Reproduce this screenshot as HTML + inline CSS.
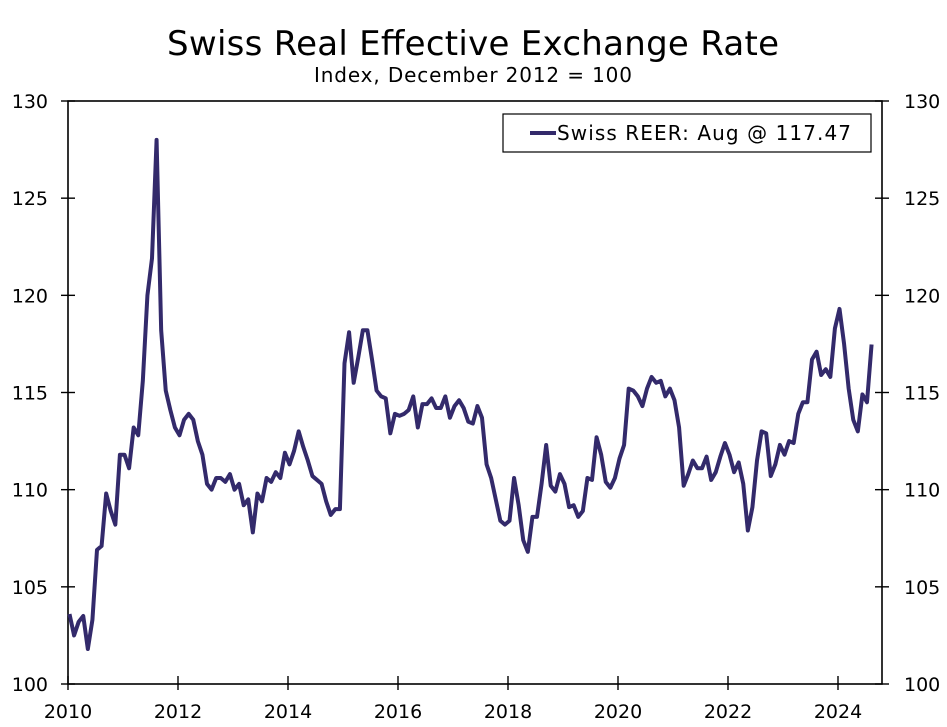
<!DOCTYPE html>
<html><head><meta charset="utf-8"><style>
html,body{margin:0;padding:0;background:#fff;}
svg{display:block;font-family:"DejaVu Sans","Liberation Sans",sans-serif;}
</style></head><body>
<svg id="chart" width="947" height="727" viewBox="0 0 947 727">
<text x="473" y="55" text-anchor="middle" font-size="34" fill="#000" textLength="612">Swiss Real Effective Exchange Rate</text>
<text x="473" y="82" text-anchor="middle" font-size="20" fill="#000" textLength="318">Index, December 2012 = 100</text>
<g id="axes"></g>
<path id="line" fill="none" stroke="#332a6b" stroke-width="4" stroke-linejoin="round"/>
<g>
<rect x="503" y="114" width="368" height="38" fill="#fff" stroke="#000" stroke-width="1.2"/>
<line x1="530" y1="133" x2="556" y2="133" stroke="#332a6b" stroke-width="4"/>
<text x="557" y="140" font-size="20" fill="#000" textLength="294">Swiss REER: Aug @ 117.47</text>
</g>
</svg>
<script>
const values = [
103.6,102.5,103.2,103.5,101.8,103.3,106.9,107.1,109.8,108.9,108.2,111.8,
111.8,111.1,113.2,112.8,115.6,120.0,121.9,128.0,118.2,115.1,114.1,113.2,
112.8,113.6,113.9,113.6,112.5,111.8,110.3,110.0,110.6,110.6,110.4,110.8,
110.0,110.3,109.2,109.5,107.8,109.8,109.4,110.6,110.4,110.9,110.6,111.9,
111.3,112.0,113.0,112.2,111.5,110.7,110.5,110.3,109.4,108.7,109.0,109.0,
116.5,118.1,115.5,116.8,118.2,118.2,116.7,115.1,114.8,114.7,112.9,113.9,
113.8,113.9,114.1,114.8,113.2,114.4,114.4,114.7,114.2,114.2,114.8,113.7,
114.3,114.6,114.2,113.5,113.4,114.3,113.7,111.3,110.6,109.5,108.4,108.2,
108.4,110.6,109.2,107.4,106.8,108.6,108.6,110.3,112.3,110.2,109.9,110.8,
110.3,109.1,109.2,108.6,108.9,110.6,110.5,112.7,111.8,110.4,110.1,110.6,
111.6,112.3,115.2,115.1,114.8,114.3,115.2,115.8,115.5,115.6,114.8,115.2,
114.6,113.2,110.2,110.8,111.5,111.1,111.1,111.7,110.5,110.9,111.7,112.4,
111.8,110.9,111.4,110.3,107.9,109.1,111.5,113.0,112.9,110.7,111.3,112.3,
111.8,112.5,112.4,113.9,114.5,114.5,116.7,117.1,115.9,116.2,115.8,118.3,
119.3,117.5,115.2,113.6,113.0,114.9,114.5,117.47];
const startYear = 2010;
const yTicks = [100,105,110,115,120,125,130];
const xTicks = [2010,2012,2014,2016,2018,2020,2022,2024];

const L=68,R=882,T=101,B=684;
const yMin=100,yMax=130;
const xS = t => L + (t-2010)*55;
const yS = v => B - (v-yMin)/(yMax-yMin)*(B-T);
const NS="http://www.w3.org/2000/svg";
const axes=document.getElementById('axes');
function mk(tag,attrs,parent){const e=document.createElementNS(NS,tag);for(const k in attrs)e.setAttribute(k,attrs[k]);(parent||axes).appendChild(e);return e;}
const fr=mk('rect',{x:L,y:T,width:R-L,height:B-T,fill:'none',stroke:'#000','stroke-width':1.6});


yTicks.forEach(v=>{
  const y=yS(v);
  const t1=mk('line',{x1:L-7,x2:L+7,y1:y,y2:y,stroke:'#000','stroke-width':1.4});
  
  
  const t2=mk('line',{x1:R-7,x2:R+7,y1:y,y2:y,stroke:'#000','stroke-width':1.4});
  
  
  const a=mk('text',{x:48,y:y+7,'text-anchor':'end','font-size':19});
  a.textContent=v;
  
  
  const b=mk('text',{x:904,y:y+7,'text-anchor':'start','font-size':19});
  b.textContent=v;
  
  
});
xTicks.forEach(yr=>{
  const x=xS(yr);
  const t=mk('line',{x1:x,x2:x,y1:B-8,y2:B+6,stroke:'#000','stroke-width':1.4});
  
  
  const l=mk('text',{x:x,y:B+34,'text-anchor':'middle','font-size':19});
  l.textContent=yr;
  
  
});
const d=values.map((v,i)=>(i?'L':'M')+(xS(startYear+i/12)+1.5).toFixed(2)+','+yS(v).toFixed(2)).join(' ');
document.getElementById('line').setAttribute('d',d);
</script>
</body></html>
